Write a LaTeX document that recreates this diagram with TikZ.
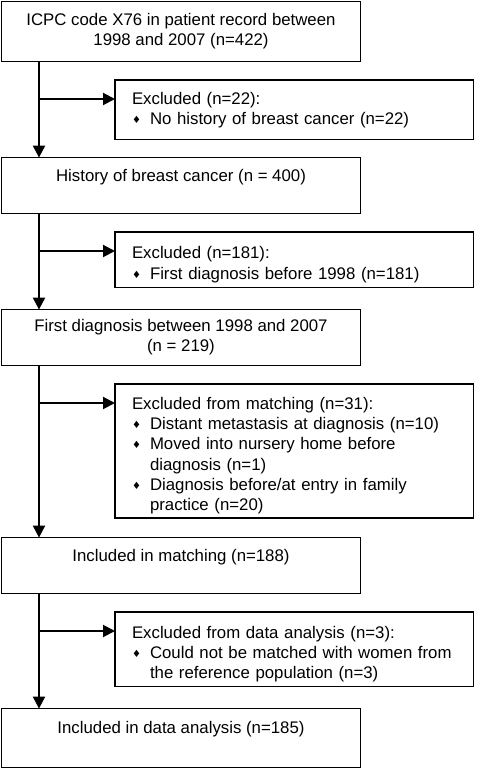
\documentclass[tikz,border=0pt]{standalone}
\usepackage{fontspec}
\setmainfont{Liberation Sans}
\newfontfamily\symfont{DejaVu Sans}
\usetikzlibrary{positioning,arrows.meta}
\newcommand{\itm}{\makebox[18pt][l]{\raisebox{1pt}{\symfont\fontsize{10}{10}\selectfont ♦}}}
\newcommand{\cont}{\hspace*{18pt}}
\newcommand{\topgap}{\rule{0pt}{21.5pt}}

\begin{document}
\begin{tikzpicture}[x=1pt,y=1pt,>={Triangle[length=12pt,width=12pt]},line width=1.2pt,font=\fontsize{16.8}{20.2}\selectfont,
    main box/.style={draw,minimum width=358.8pt,minimum height=55.8pt,align=center,inner sep=0pt,outer sep=0pt,anchor=north west},
    excl box/.style={draw,text width=324.8pt,minimum height=55.8pt,align=left,inner xsep=17pt,inner ysep=4pt,outer sep=0pt,anchor=north west},
    flow/.style={->,line width=2pt}]
                \useasboundingbox (0,0) rectangle (478,-770);
                \coordinate (s) at (39,0);

                \node[main box,minimum height=59.8pt] (1) at (1.6,-1.6) {ICPC code X76 in patient record between\\1998 and 2007 (n=422)};
                \node[excl box,minimum height=59.8pt] (x1) [below right=18.6pt and 113.4pt of 1.south west] {Excluded (n=22):\\\itm No history of breast cancer (n=22)};
                \node[main box] (2) at (1.6,-157.6) {History of breast cancer (n = 400)\\\mbox{}};
                \node[excl box] (x2) [below right=18.6pt and 113.4pt of 2.south west] {\topgap Excluded (n=181):\\\itm First diagnosis before 1998 (n=181)};
                \node[main box] (3) at (1.6,-309.6) {First diagnosis between 1998 and 2007\\(n = 219)};
                \node[excl box,minimum height=131.8pt] (x3) [below right=18.6pt and 113.4pt of 3.south west] {\topgap Excluded from matching (n=31):\\\itm Distant metastasis at diagnosis (n=10)\\\itm Moved into nursery home before\\\cont diagnosis (n=1)\\\itm Diagnosis before/at entry in family\\\cont practice (n=20)};
                \node[main box] (4) at (1.6,-537.6) {Included in matching (n=188)\\\mbox{}};
                \node[excl box,minimum height=74.8pt] (x4) [below right=18.6pt and 113.4pt of 4.south west] {\topgap Excluded from data analysis (n=3):\\\itm Could not be matched with women from\\\cont the reference population (n=3)};
                \node[main box,minimum height=58.8pt] (5) at (1.6,-708.6) {Included in data analysis (n=185)\\\mbox{}};

                % branch points on the spine
                \coordinate (a1) at ([yshift=-19pt]x1.north west);
                \coordinate (a2) at ([yshift=-19pt]x2.north west);
                \coordinate (a3) at ([yshift=-19pt]x3.north west);
                \coordinate (a4) at ([yshift=-19pt]x4.north west);

                \path[flow]
                    (1.south -| s) edge (2.north -| s)
                    (2.south -| s) edge (3.north -| s)
                    (3.south -| s) edge (4.north -| s)
                    (4.south -| s) edge (5.north -| s)
                    (a1 -| s) edge (a1)
                    (a2 -| s) edge (a2)
                    (a3 -| s) edge (a3)
                    (a4 -| s) edge (a4)
                    ;
\end{tikzpicture}
\end{document}
